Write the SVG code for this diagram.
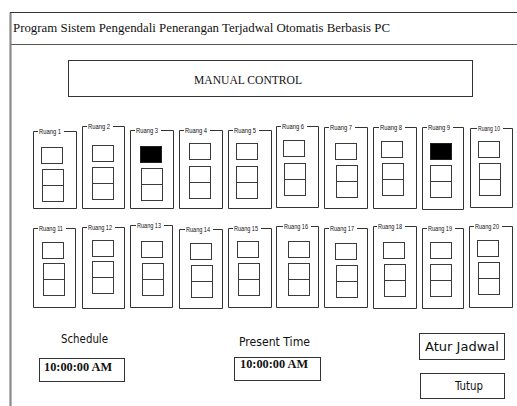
<svg xmlns="http://www.w3.org/2000/svg" width="517" height="406" viewBox="0 0 517 406">
  <style>
    .frame { fill: none; stroke: #555; stroke-width: 1.2; }
    .box { fill: #fff; stroke: #333; stroke-width: 1; }
    .sw { fill: #fff; stroke: #3a3a3a; stroke-width: 1; }
    .on { fill: #000; stroke: #222; stroke-width: 1; }
    .grp { fill: none; stroke: #333; stroke-width: 1; }
    .lbl { font-family: "Liberation Sans", Arial, sans-serif; font-size: 7.4px; fill: #111; }
    .title { font-family: "Liberation Serif", "Times New Roman", serif; font-size: 13px; fill: #111; }
    .cap { font-family: "DejaVu Sans Condensed", "Liberation Sans", sans-serif; font-size: 12px; fill: #111; }
    .time { font-family: "Liberation Serif", "Times New Roman", serif; font-size: 12.5px; font-weight: bold; fill: #111; }
  </style>

  <rect x="0" y="0" width="517" height="406" fill="#fff"/>

  <!-- window frame and title bar -->
  <g id="window">
    <path d="M10.5,406 V12.5 H517" fill="none" stroke="#333" stroke-width="1.2"/>
    <line x1="10.5" y1="44.5" x2="517" y2="44.5" stroke="#555" stroke-width="1"/>
    <line x1="10.5" y1="13" x2="10.5" y2="406" stroke="#888" stroke-width="2"/>
    <text class="title" x="13" y="32" textLength="377" lengthAdjust="spacingAndGlyphs">Program Sistem Pengendali Penerangan Terjadwal Otomatis Berbasis PC</text>
  </g>

  <g id="manual-control">
    <rect class="box" x="68.5" y="60.5" width="404" height="36"/>
    <text class="title" x="194" y="84" textLength="108" lengthAdjust="spacingAndGlyphs">MANUAL CONTROL</text>
  </g>

  <!-- row 1 rooms -->
  <g id="ruang-1">
    <path class="grp" d="M38,131.5 H33.5 V208.5 H76.5 V131.5 H64"/>
    <text class="lbl" x="39" y="134" textLength="22" lengthAdjust="spacingAndGlyphs">Ruang 1</text>
    <rect class="sw" x="41.5" y="147.5" width="21" height="16"/>
    <rect class="sw" x="42.5" y="169.5" width="21" height="32"/>
    <line class="sw" x1="42.5" y1="185.5" x2="63.5" y2="185.5"/>
  </g>
  <g id="ruang-2">
    <path class="grp" d="M87,126.5 H82.5 V208.5 H124.5 V126.5 H113"/>
    <text class="lbl" x="88" y="129" textLength="22" lengthAdjust="spacingAndGlyphs">Ruang 2</text>
    <rect class="sw" x="92.5" y="145.5" width="21" height="16"/>
    <rect class="sw" x="92.5" y="167.5" width="21" height="32"/>
    <line class="sw" x1="92.5" y1="183.5" x2="113.5" y2="183.5"/>
  </g>
  <g id="ruang-3">
    <path class="grp" d="M135,130.5 H130.5 V208.5 H173.5 V130.5 H161"/>
    <text class="lbl" x="136" y="133" textLength="22" lengthAdjust="spacingAndGlyphs">Ruang 3</text>
    <rect class="on" x="140.5" y="146.5" width="21" height="16"/>
    <rect class="sw" x="141.5" y="168.5" width="21" height="32"/>
    <line class="sw" x1="141.5" y1="184.5" x2="162.5" y2="184.5"/>
  </g>
  <g id="ruang-4">
    <path class="grp" d="M184,130.5 H179.5 V208.5 H222.5 V130.5 H210"/>
    <text class="lbl" x="185" y="133" textLength="22" lengthAdjust="spacingAndGlyphs">Ruang 4</text>
    <rect class="sw" x="189.5" y="143.5" width="21" height="16"/>
    <rect class="sw" x="189.5" y="166.5" width="21" height="32"/>
    <line class="sw" x1="189.5" y1="182.5" x2="210.5" y2="182.5"/>
  </g>
  <g id="ruang-5">
    <path class="grp" d="M233,130.5 H228.5 V208.5 H271.5 V130.5 H259"/>
    <text class="lbl" x="234" y="133" textLength="22" lengthAdjust="spacingAndGlyphs">Ruang 5</text>
    <rect class="sw" x="236.5" y="143.5" width="21" height="16"/>
    <rect class="sw" x="236.5" y="166.5" width="21" height="32"/>
    <line class="sw" x1="236.5" y1="182.5" x2="257.5" y2="182.5"/>
  </g>
  <g id="ruang-6">
    <path class="grp" d="M281,126.5 H276.5 V207.5 H318.5 V126.5 H307"/>
    <text class="lbl" x="282" y="129" textLength="22" lengthAdjust="spacingAndGlyphs">Ruang 6</text>
    <rect class="sw" x="283.5" y="140.5" width="21" height="16"/>
    <rect class="sw" x="284.5" y="163.5" width="21" height="32"/>
    <line class="sw" x1="284.5" y1="179.5" x2="305.5" y2="179.5"/>
  </g>
  <g id="ruang-7">
    <path class="grp" d="M329,127.5 H324.5 V208.5 H367.5 V127.5 H355"/>
    <text class="lbl" x="330" y="130" textLength="22" lengthAdjust="spacingAndGlyphs">Ruang 7</text>
    <rect class="sw" x="335.5" y="143.5" width="21" height="16"/>
    <rect class="sw" x="336.5" y="165.5" width="21" height="32"/>
    <line class="sw" x1="336.5" y1="181.5" x2="357.5" y2="181.5"/>
  </g>
  <g id="ruang-8">
    <path class="grp" d="M379,127.5 H373.5 V208.5 H416.5 V127.5 H405"/>
    <text class="lbl" x="380" y="130" textLength="22" lengthAdjust="spacingAndGlyphs">Ruang 8</text>
    <rect class="sw" x="381.5" y="141.5" width="21" height="16"/>
    <rect class="sw" x="382.5" y="163.5" width="21" height="32"/>
    <line class="sw" x1="382.5" y1="179.5" x2="403.5" y2="179.5"/>
  </g>
  <g id="ruang-9">
    <path class="grp" d="M427,127.5 H422.5 V209.5 H463.5 V127.5 H453"/>
    <text class="lbl" x="428" y="130" textLength="22" lengthAdjust="spacingAndGlyphs">Ruang 9</text>
    <rect class="on" x="430.5" y="143.5" width="21" height="16"/>
    <rect class="sw" x="430.5" y="165.5" width="21" height="32"/>
    <line class="sw" x1="430.5" y1="181.5" x2="451.5" y2="181.5"/>
  </g>
  <g id="ruang-10">
    <path class="grp" d="M477,128.5 H470.5 V207.5 H512.5 V128.5 H503"/>
    <text class="lbl" x="478" y="131" textLength="22" lengthAdjust="spacingAndGlyphs">Ruang 10</text>
    <rect class="sw" x="478.5" y="141.5" width="21" height="16"/>
    <rect class="sw" x="479.5" y="163.5" width="21" height="32"/>
    <line class="sw" x1="479.5" y1="179.5" x2="500.5" y2="179.5"/>
  </g>

  <!-- row 2 rooms -->
  <g id="ruang-11">
    <path class="grp" d="M38,228.5 H33.5 V307.5 H75.5 V228.5 H66"/>
    <text class="lbl" x="39" y="231" textLength="24" lengthAdjust="spacingAndGlyphs">Ruang 11</text>
    <rect class="sw" x="42.5" y="242.5" width="21" height="16"/>
    <rect class="sw" x="43.5" y="263.5" width="21" height="32"/>
    <line class="sw" x1="43.5" y1="279.5" x2="64.5" y2="279.5"/>
  </g>
  <g id="ruang-12">
    <path class="grp" d="M87,227.5 H82.5 V308.5 H124.5 V227.5 H115"/>
    <text class="lbl" x="88" y="230" textLength="24" lengthAdjust="spacingAndGlyphs">Ruang 12</text>
    <rect class="sw" x="92.5" y="240.5" width="21" height="16"/>
    <rect class="sw" x="92.5" y="261.5" width="21" height="32"/>
    <line class="sw" x1="92.5" y1="277.5" x2="113.5" y2="277.5"/>
  </g>
  <g id="ruang-13">
    <path class="grp" d="M136,225.5 H130.5 V307.5 H172.5 V225.5 H164"/>
    <text class="lbl" x="137" y="228" textLength="24" lengthAdjust="spacingAndGlyphs">Ruang 13</text>
    <rect class="sw" x="141.5" y="241.5" width="21" height="16"/>
    <rect class="sw" x="142.5" y="263.5" width="21" height="32"/>
    <line class="sw" x1="142.5" y1="279.5" x2="163.5" y2="279.5"/>
  </g>
  <g id="ruang-14">
    <path class="grp" d="M185,229.5 H179.5 V308.5 H222.5 V229.5 H213"/>
    <text class="lbl" x="186" y="232" textLength="24" lengthAdjust="spacingAndGlyphs">Ruang 14</text>
    <rect class="sw" x="190.5" y="243.5" width="21" height="16"/>
    <rect class="sw" x="191.5" y="265.5" width="21" height="32"/>
    <line class="sw" x1="191.5" y1="281.5" x2="212.5" y2="281.5"/>
  </g>
  <g id="ruang-15">
    <path class="grp" d="M233,228.5 H228.5 V307.5 H271.5 V228.5 H261"/>
    <text class="lbl" x="234" y="231" textLength="24" lengthAdjust="spacingAndGlyphs">Ruang 15</text>
    <rect class="sw" x="237.5" y="241.5" width="21" height="16"/>
    <rect class="sw" x="238.5" y="263.5" width="21" height="32"/>
    <line class="sw" x1="238.5" y1="279.5" x2="259.5" y2="279.5"/>
  </g>
  <g id="ruang-16">
    <path class="grp" d="M283,226.5 H276.5 V307.5 H318.5 V226.5 H311"/>
    <text class="lbl" x="284" y="229" textLength="24" lengthAdjust="spacingAndGlyphs">Ruang 16</text>
    <rect class="sw" x="288.5" y="241.5" width="21" height="16"/>
    <rect class="sw" x="288.5" y="263.5" width="21" height="32"/>
    <line class="sw" x1="288.5" y1="279.5" x2="309.5" y2="279.5"/>
  </g>
  <g id="ruang-17">
    <path class="grp" d="M329,228.5 H324.5 V307.5 H367.5 V228.5 H357"/>
    <text class="lbl" x="330" y="231" textLength="24" lengthAdjust="spacingAndGlyphs">Ruang 17</text>
    <rect class="sw" x="335.5" y="243.5" width="21" height="16"/>
    <rect class="sw" x="336.5" y="265.5" width="21" height="32"/>
    <line class="sw" x1="336.5" y1="281.5" x2="357.5" y2="281.5"/>
  </g>
  <g id="ruang-18">
    <path class="grp" d="M377,226.5 H373.5 V308.5 H416.5 V226.5 H405"/>
    <text class="lbl" x="378" y="229" textLength="24" lengthAdjust="spacingAndGlyphs">Ruang 18</text>
    <rect class="sw" x="383.5" y="242.5" width="21" height="16"/>
    <rect class="sw" x="384.5" y="264.5" width="21" height="32"/>
    <line class="sw" x1="384.5" y1="280.5" x2="405.5" y2="280.5"/>
  </g>
  <g id="ruang-19">
    <path class="grp" d="M427,228.5 H422.5 V308.5 H463.5 V228.5 H455"/>
    <text class="lbl" x="428" y="231" textLength="24" lengthAdjust="spacingAndGlyphs">Ruang 19</text>
    <rect class="sw" x="430.5" y="242.5" width="21" height="16"/>
    <rect class="sw" x="430.5" y="264.5" width="21" height="32"/>
    <line class="sw" x1="430.5" y1="280.5" x2="451.5" y2="280.5"/>
  </g>
  <g id="ruang-20">
    <path class="grp" d="M474,226.5 H469.5 V307.5 H512.5 V226.5 H502"/>
    <text class="lbl" x="475" y="229" textLength="24" lengthAdjust="spacingAndGlyphs">Ruang 20</text>
    <rect class="sw" x="477.5" y="240.5" width="21" height="16"/>
    <rect class="sw" x="478.5" y="262.5" width="21" height="32"/>
    <line class="sw" x1="478.5" y1="278.5" x2="499.5" y2="278.5"/>
  </g>

  <!-- schedule / clock / buttons -->
  <g id="schedule">
    <text class="cap" x="61" y="343" textLength="47" lengthAdjust="spacingAndGlyphs">Schedule</text>
    <rect class="box" x="39.5" y="358.5" width="85" height="23"/>
    <text class="time" x="44" y="371" textLength="68" lengthAdjust="spacingAndGlyphs">10:00:00 AM</text>
  </g>
  <g id="present-time">
    <text class="cap" x="239" y="346" textLength="71" lengthAdjust="spacingAndGlyphs">Present Time</text>
    <rect class="box" x="234.5" y="357.5" width="86" height="23"/>
    <text class="time" x="240" y="368" textLength="68" lengthAdjust="spacingAndGlyphs">10:00:00 AM</text>
  </g>
  <g id="atur-jadwal">
    <rect class="box" x="419.5" y="333.5" width="85" height="26"/>
    <text class="cap" x="425" y="351" textLength="74" lengthAdjust="spacingAndGlyphs">Atur Jadwal</text>
  </g>
  <g id="tutup">
    <rect class="box" x="420.5" y="373.5" width="84" height="25"/>
    <text class="cap" x="455" y="390" textLength="28" lengthAdjust="spacingAndGlyphs">Tutup</text>
  </g>
</svg>
